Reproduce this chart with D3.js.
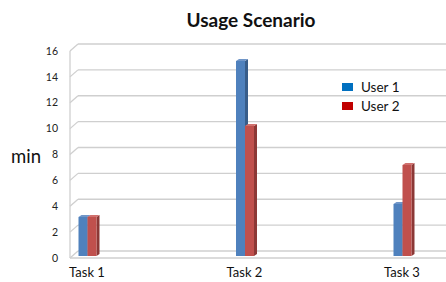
<!DOCTYPE html>
<html lang="en">
<head>
<meta charset="UTF-8">
<title>Usage Scenario</title>
<script src="https://d3js.org/d3.v7.min.js"></script>
<style>
    body { margin: 0; background: #ffffff; }
    svg { display: block; font-family: Lato, "Open Sans", sans-serif; }
    .grid line { stroke: #cfcfcf; stroke-width: 1.3; }
    .tick-label { font-size: 10.5px; fill: #222; }
    .cat-label { font-size: 13px; fill: #111; }
    .legend-text { font-size: 13.5px; fill: #111; }
</style>
</head>
<body>
<div id="chart"></div>
<script>
    // data
    const categories = ["Task 1", "Task 2", "Task 3"];
    const seriesNames = ["User 1", "User 2"];
    const user1 = [3, 15, 4];
    const user2 = [3, 10, 7];
    const yTicks = [0, 2, 4, 6, 8, 10, 12, 14, 16];

    const W = 446, H = 282;
    const depthX = 8, depthY = -7;   // back wall offset
    const barW = 9, barDx = 3, barDy = -2;

    const faceColors = ["#4f81bd", "#c0504d"];
    const sideColors = ["#385d8a", "#8c3836"];
    const topColors = ["#7096c8", "#d0706d"];
    const legendColors = ["#0070c0", "#c00000"];

    const svg = d3.select("#chart").append("svg")
        .attr("width", W).attr("height", H);

    // front scale (axis labels), bar scale, back wall is front shifted
    const yFront = d3.scaleLinear().domain([0, 16]).range([258, 51]);
    const yBar = d3.scaleLinear().domain([0, 16]).range([256, 48]);
    const x = d3.scalePoint().domain(categories).range([87, 402]);
    const xLeft = 70, xRight = W;

    // grid on back wall plus left wall diagonals
    const grid = svg.append("g").attr("class", "grid");
    grid.selectAll("line.h").data(yTicks).join("line")
        .attr("class", "h")
        .attr("x1", xLeft + depthX).attr("x2", xRight)
        .attr("y1", d => yFront(d) + depthY).attr("y2", d => yFront(d) + depthY);
    grid.selectAll("line.d").data(yTicks).join("line")
        .attr("class", "d")
        .attr("x1", xLeft).attr("x2", xLeft + depthX)
        .attr("y1", d => yFront(d)).attr("y2", d => yFront(d) + depthY);
    grid.append("line")
        .attr("x1", xLeft).attr("x2", xLeft)
        .attr("y1", yFront(16)).attr("y2", yFront(0));
    grid.append("line")
        .attr("x1", xLeft).attr("x2", xRight)
        .attr("y1", yFront(0)).attr("y2", yFront(0));

    // y tick labels
    svg.append("g").selectAll("text").data(yTicks).join("text")
        .attr("class", "tick-label")
        .attr("x", 58).attr("y", d => yFront(d))
        .attr("dy", "0.35em").attr("text-anchor", "end")
        .text(d => d);

    // axis title
    svg.append("text")
        .attr("x", 11).attr("y", 163)
        .attr("font-size", 18.5).attr("fill", "#111")
        .text("min");

    // chart title
    svg.append("text")
        .attr("x", 251).attr("y", 27)
        .attr("text-anchor", "middle")
        .attr("font-size", 19).attr("font-weight", "bold").attr("fill", "#111")
        .text("Usage Scenario");

    // bars
    const barData = [];
    categories.forEach((c, i) => {
        [user1[i], user2[i]].forEach((v, s) => {
            barData.push({ cat: c, value: v, s: s });
        });
    });

    const bars = svg.append("g").selectAll("g").data(barData).join("g");
    const bx = d => x(d.cat) - barW + 0.5 + d.s * barW;

    bars.append("path")
        .attr("fill", d => sideColors[d.s])
        .attr("d", d => {
            const x0 = bx(d) + barW, yt = yBar(d.value), yb = yBar(0);
            return `M${x0},${yt}L${x0 + barDx},${yt + barDy}L${x0 + barDx},${yb + barDy}L${x0},${yb}Z`;
        });
    bars.append("path")
        .attr("fill", d => topColors[d.s])
        .attr("d", d => {
            const x0 = bx(d), yt = yBar(d.value);
            return `M${x0},${yt}L${x0 + barDx},${yt + barDy}L${x0 + barW + barDx},${yt + barDy}L${x0 + barW},${yt}Z`;
        });
    bars.append("rect")
        .attr("x", bx)
        .attr("y", d => yBar(d.value))
        .attr("width", barW)
        .attr("height", d => yBar(0) - yBar(d.value))
        .attr("fill", d => faceColors[d.s]);

    // category labels
    svg.append("g").selectAll("text").data(categories).join("text")
        .attr("class", "cat-label")
        .attr("x", d => x(d)).attr("y", 277)
        .attr("text-anchor", "middle")
        .text(d => d);

    // legend
    const legend = svg.append("g").selectAll("g").data(seriesNames).join("g")
        .attr("transform", (d, i) => `translate(342,${83 + i * 19})`);
    legend.append("rect")
        .attr("width", 11).attr("height", 8)
        .attr("fill", (d, i) => legendColors[i]);
    legend.append("text")
        .attr("class", "legend-text")
        .attr("x", 19).attr("y", 9)
        .text(d => d);
</script>
</body>
</html>
